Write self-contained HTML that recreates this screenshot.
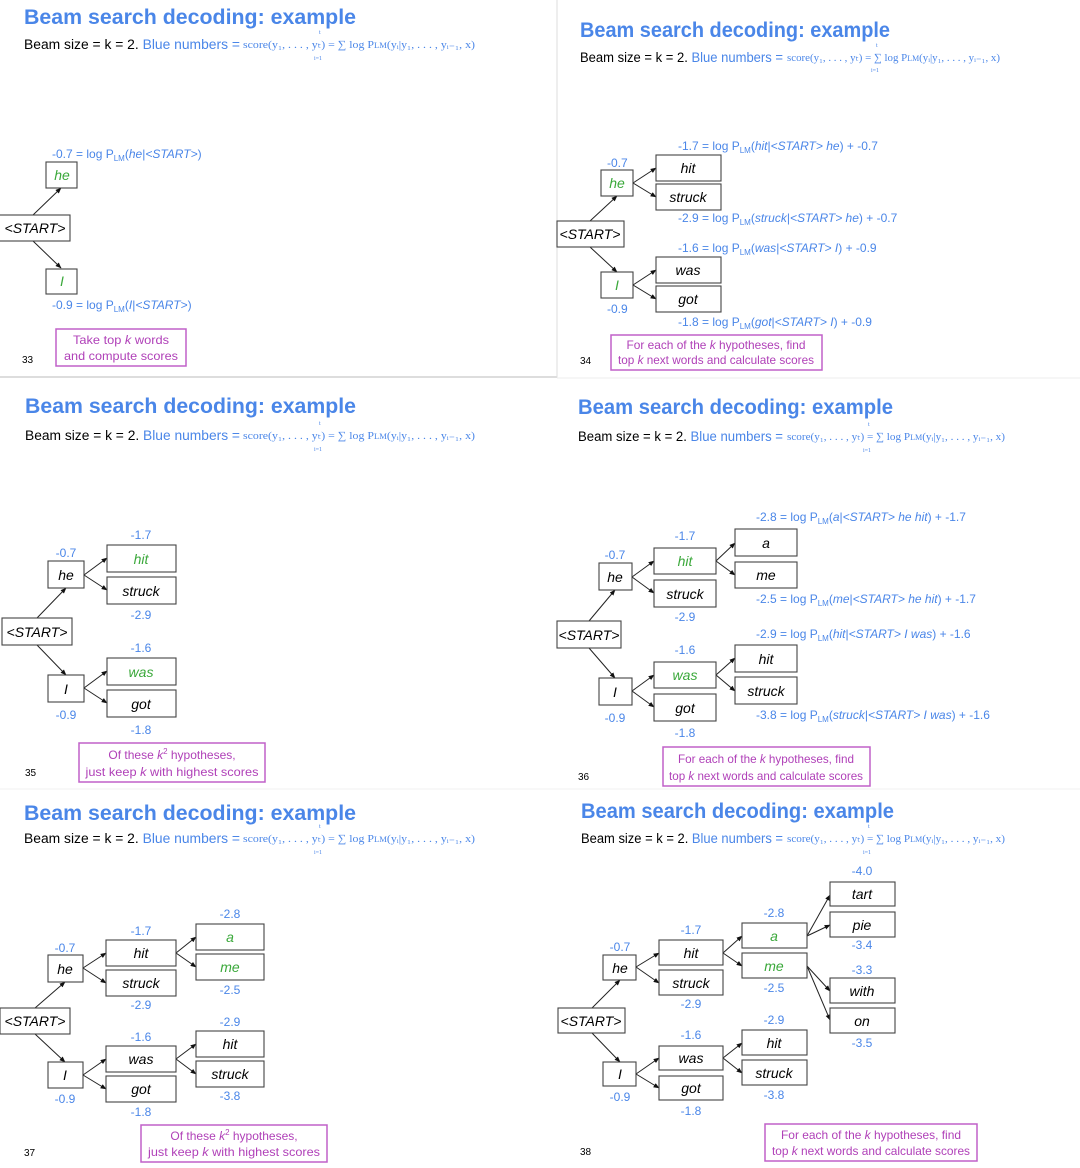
<!DOCTYPE html>
<html><head><meta charset="utf-8"><style>
html,body{margin:0;padding:0;background:#fff;}
svg{display:block;}
.t{font-family:"Liberation Sans",sans-serif;font-weight:bold;font-size:21px;fill:#4a86e8;}
.s{font-family:"Liberation Sans",sans-serif;font-size:13.5px;fill:#000;}
.sb{fill:#4a86e8;}
.f{font-family:"Liberation Serif",serif;font-size:11px;fill:#4a86e8;}
.fs{font-family:"Liberation Serif",serif;font-size:6px;fill:#4a86e8;}
.r{fill:#fff;stroke:#444;stroke-width:1.1;}
.w{font-family:"Liberation Sans",sans-serif;font-style:italic;font-size:14px;fill:#000;text-anchor:middle;}
.g{fill:#3aa83a;}
.n{font-family:"Liberation Sans",sans-serif;font-size:12px;fill:#4a86e8;}
.c{text-anchor:middle;}
.i{font-style:italic;}
.sub{font-size:8px;}
.pb{fill:#fff;stroke:#c060c8;stroke-width:1.5;}
.p{font-family:"Liberation Sans",sans-serif;font-size:12px;fill:#b040b8;text-anchor:middle;}
.num{font-family:"Liberation Sans",sans-serif;font-size:10px;fill:#000;}
.e{stroke:#222;stroke-width:1;marker-end:url(#ah);fill:none;}
</style></head><body>
<svg width="1080" height="1168" viewBox="0 0 1080 1168" xmlns="http://www.w3.org/2000/svg">
<defs><marker id="ah" viewBox="0 0 10 10" refX="9" refY="5" markerWidth="6" markerHeight="6" orient="auto"><path d="M0,1 L10,5 L0,9 z" fill="#111"/></marker></defs>
<rect width="1080" height="1168" fill="#fff"/>
<line x1="0" y1="377" x2="557" y2="377" stroke="#bbb"/>
<line x1="557" y1="0" x2="557" y2="378" stroke="#ddd"/>
<line x1="557" y1="378" x2="1080" y2="378" stroke="#eee"/>
<line x1="0" y1="789" x2="1080" y2="789" stroke="#f0f0f0"/>

<!-- Panel 33 -->
<text class="t" x="24" y="24" textLength="332" lengthAdjust="spacingAndGlyphs">Beam search decoding: example</text>
<text class="s" x="24" y="49" textLength="216" lengthAdjust="spacingAndGlyphs">Beam size = k = 2. <tspan class="sb">Blue numbers =</tspan></text>
<text class="f" x="243" y="48" textLength="232" lengthAdjust="spacingAndGlyphs">score(y₁, . . . , yₜ) = ∑ log P<tspan class="sub">LM</tspan>(yᵢ|y₁, . . . , yᵢ₋₁, x)</text>
<text class="fs" x="319" y="34">t</text><text class="fs" x="314" y="60">i=1</text>
<line class="e" x1="33" y1="215" x2="61" y2="188"/>
<line class="e" x1="33" y1="241" x2="61" y2="268"/>
<rect class="r" x="46" y="162" width="31" height="26"/><text class="w g" x="62" y="180">he</text>
<rect class="r" x="-1" y="215" width="71" height="26"/><text class="w" x="35" y="233">&lt;START&gt;</text>
<rect class="r" x="46" y="269" width="31" height="25"/><text class="w g" x="62" y="286">I</text>
<text class="n" x="52" y="158">-0.7 = log P<tspan class="sub" dy="3">LM</tspan><tspan dy="-3">(</tspan><tspan class="i">he</tspan>|<tspan class="i">&lt;START&gt;</tspan>)</text>
<text class="n" x="52" y="309">-0.9 = log P<tspan class="sub" dy="3">LM</tspan><tspan dy="-3">(</tspan><tspan class="i">I</tspan>|<tspan class="i">&lt;START&gt;</tspan>)</text>
<rect class="pb" x="56" y="329" width="130" height="37"/>
<text class="p" x="121" y="344" textLength="96" lengthAdjust="spacingAndGlyphs">Take top <tspan class="i">k</tspan> words</text>
<text class="p" x="121" y="360" textLength="114" lengthAdjust="spacingAndGlyphs">and compute scores</text>
<text class="num" x="22" y="363">33</text>

<!-- Panel 34 -->
<text class="t" x="580" y="37" textLength="310" lengthAdjust="spacingAndGlyphs">Beam search decoding: example</text>
<text class="s" x="580" y="62" textLength="203" lengthAdjust="spacingAndGlyphs">Beam size = k = 2. <tspan class="sb">Blue numbers =</tspan></text>
<text class="f" x="787" y="61" textLength="213" lengthAdjust="spacingAndGlyphs">score(y₁, . . . , yₜ) = ∑ log P<tspan class="sub">LM</tspan>(yᵢ|y₁, . . . , yᵢ₋₁, x)</text>
<text class="fs" x="876" y="47">t</text><text class="fs" x="871" y="72">i=1</text>
<line class="e" x1="590" y1="221" x2="617" y2="196"/>
<line class="e" x1="590" y1="247" x2="617" y2="272"/>
<line class="e" x1="633" y1="183" x2="656" y2="168"/>
<line class="e" x1="633" y1="183" x2="656" y2="197"/>
<line class="e" x1="633" y1="285" x2="656" y2="270"/>
<line class="e" x1="633" y1="285" x2="656" y2="299"/>
<rect class="r" x="601" y="170" width="32" height="26"/><text class="w g" x="617" y="188">he</text>
<rect class="r" x="557" y="221" width="67" height="26"/><text class="w" x="590" y="239">&lt;START&gt;</text>
<rect class="r" x="601" y="272" width="32" height="26"/><text class="w g" x="617" y="290">I</text>
<rect class="r" x="656" y="155" width="65" height="26"/><text class="w" x="688" y="173">hit</text>
<rect class="r" x="656" y="184" width="65" height="26"/><text class="w" x="688" y="202">struck</text>
<rect class="r" x="656" y="257" width="65" height="26"/><text class="w" x="688" y="275">was</text>
<rect class="r" x="656" y="286" width="65" height="26"/><text class="w" x="688" y="304">got</text>
<text class="n" x="607" y="167">-0.7</text>
<text class="n" x="607" y="313">-0.9</text>
<text class="n" x="678" y="150">-1.7 = log P<tspan class="sub" dy="3">LM</tspan><tspan dy="-3">(</tspan><tspan class="i">hit</tspan>|<tspan class="i">&lt;START&gt; he</tspan>) + -0.7</text>
<text class="n" x="678" y="222">-2.9 = log P<tspan class="sub" dy="3">LM</tspan><tspan dy="-3">(</tspan><tspan class="i">struck</tspan>|<tspan class="i">&lt;START&gt; he</tspan>) + -0.7</text>
<text class="n" x="678" y="252">-1.6 = log P<tspan class="sub" dy="3">LM</tspan><tspan dy="-3">(</tspan><tspan class="i">was</tspan>|<tspan class="i">&lt;START&gt; I</tspan>) + -0.9</text>
<text class="n" x="678" y="326">-1.8 = log P<tspan class="sub" dy="3">LM</tspan><tspan dy="-3">(</tspan><tspan class="i">got</tspan>|<tspan class="i">&lt;START&gt; I</tspan>) + -0.9</text>
<rect class="pb" x="611" y="335" width="211" height="35"/>
<text class="p" x="716" y="349" textLength="179" lengthAdjust="spacingAndGlyphs">For each of the <tspan class="i">k</tspan> hypotheses, find</text>
<text class="p" x="716" y="364" textLength="196" lengthAdjust="spacingAndGlyphs">top <tspan class="i">k</tspan> next words and calculate scores</text>
<text class="num" x="580" y="364">34</text>

<!-- Panel 35 -->
<text class="t" x="25" y="413" textLength="331" lengthAdjust="spacingAndGlyphs">Beam search decoding: example</text>
<text class="s" x="25" y="440" textLength="215" lengthAdjust="spacingAndGlyphs">Beam size = k = 2. <tspan class="sb">Blue numbers =</tspan></text>
<text class="f" x="243" y="439" textLength="232" lengthAdjust="spacingAndGlyphs">score(y₁, . . . , yₜ) = ∑ log P<tspan class="sub">LM</tspan>(yᵢ|y₁, . . . , yᵢ₋₁, x)</text>
<text class="fs" x="319" y="425">t</text><text class="fs" x="314" y="451">i=1</text>
<line class="e" x1="37" y1="618" x2="66" y2="588"/>
<line class="e" x1="37" y1="645" x2="66" y2="675"/>
<line class="e" x1="84" y1="575" x2="107" y2="558"/>
<line class="e" x1="84" y1="575" x2="107" y2="590"/>
<line class="e" x1="84" y1="688" x2="107" y2="671"/>
<line class="e" x1="84" y1="688" x2="107" y2="703"/>
<rect class="r" x="48" y="561" width="36" height="27"/><text class="w" x="66" y="580">he</text>
<rect class="r" x="2" y="618" width="70" height="27"/><text class="w" x="37" y="637">&lt;START&gt;</text>
<rect class="r" x="48" y="675" width="36" height="27"/><text class="w" x="66" y="694">I</text>
<rect class="r" x="107" y="545" width="69" height="27"/><text class="w g" x="141" y="564">hit</text>
<rect class="r" x="107" y="577" width="69" height="27"/><text class="w" x="141" y="596">struck</text>
<rect class="r" x="107" y="658" width="69" height="27"/><text class="w g" x="141" y="677">was</text>
<rect class="r" x="107" y="690" width="69" height="27"/><text class="w" x="141" y="709">got</text>
<text class="n c" x="66" y="557">-0.7</text>
<text class="n c" x="66" y="719">-0.9</text>
<text class="n c" x="141" y="539">-1.7</text>
<text class="n c" x="141" y="619">-2.9</text>
<text class="n c" x="141" y="652">-1.6</text>
<text class="n c" x="141" y="734">-1.8</text>
<rect class="pb" x="79" y="743" width="186" height="39"/>
<text class="p" x="172" y="759">Of these <tspan class="i">k</tspan><tspan font-size="8" dy="-5">2</tspan><tspan dy="5"> hypotheses,</tspan></text>
<text class="p" x="172" y="776" textLength="173" lengthAdjust="spacingAndGlyphs">just keep <tspan class="i">k</tspan> with highest scores</text>
<text class="num" x="25" y="776">35</text>

<!-- Panel 36 -->
<text class="t" x="578" y="414" textLength="315" lengthAdjust="spacingAndGlyphs">Beam search decoding: example</text>
<text class="s" x="578" y="441" textLength="205" lengthAdjust="spacingAndGlyphs">Beam size = k = 2. <tspan class="sb">Blue numbers =</tspan></text>
<text class="f" x="787" y="440" textLength="218" lengthAdjust="spacingAndGlyphs">score(y₁, . . . , yₜ) = ∑ log P<tspan class="sub">LM</tspan>(yᵢ|y₁, . . . , yᵢ₋₁, x)</text>
<text class="fs" x="868" y="426">t</text><text class="fs" x="863" y="452">i=1</text>
<line class="e" x1="589" y1="621" x2="615" y2="590"/>
<line class="e" x1="589" y1="648" x2="615" y2="678"/>
<line class="e" x1="632" y1="577" x2="654" y2="561"/>
<line class="e" x1="632" y1="577" x2="654" y2="593"/>
<line class="e" x1="632" y1="691" x2="654" y2="675"/>
<line class="e" x1="632" y1="691" x2="654" y2="707"/>
<line class="e" x1="716" y1="561" x2="735" y2="543"/>
<line class="e" x1="716" y1="561" x2="735" y2="575"/>
<line class="e" x1="716" y1="675" x2="735" y2="658"/>
<line class="e" x1="716" y1="675" x2="735" y2="691"/>
<rect class="r" x="599" y="563" width="33" height="27"/><text class="w" x="615" y="582">he</text>
<rect class="r" x="557" y="621" width="64" height="27"/><text class="w" x="589" y="640">&lt;START&gt;</text>
<rect class="r" x="599" y="678" width="33" height="27"/><text class="w" x="615" y="697">I</text>
<rect class="r" x="654" y="548" width="62" height="26"/><text class="w g" x="685" y="566">hit</text>
<rect class="r" x="654" y="580" width="62" height="27"/><text class="w" x="685" y="599">struck</text>
<rect class="r" x="654" y="662" width="62" height="26"/><text class="w g" x="685" y="680">was</text>
<rect class="r" x="654" y="694" width="62" height="27"/><text class="w" x="685" y="713">got</text>
<rect class="r" x="735" y="529" width="62" height="27"/><text class="w" x="766" y="548">a</text>
<rect class="r" x="735" y="562" width="62" height="26"/><text class="w" x="766" y="580">me</text>
<rect class="r" x="735" y="645" width="62" height="27"/><text class="w" x="766" y="664">hit</text>
<rect class="r" x="735" y="677" width="62" height="27"/><text class="w" x="766" y="696">struck</text>
<text class="n c" x="615" y="559">-0.7</text>
<text class="n c" x="615" y="722">-0.9</text>
<text class="n c" x="685" y="540">-1.7</text>
<text class="n c" x="685" y="621">-2.9</text>
<text class="n c" x="685" y="654">-1.6</text>
<text class="n c" x="685" y="737">-1.8</text>
<text class="n" x="756" y="521">-2.8 = log P<tspan class="sub" dy="3">LM</tspan><tspan dy="-3">(</tspan><tspan class="i">a</tspan>|<tspan class="i">&lt;START&gt; he hit</tspan>) + -1.7</text>
<text class="n" x="756" y="603">-2.5 = log P<tspan class="sub" dy="3">LM</tspan><tspan dy="-3">(</tspan><tspan class="i">me</tspan>|<tspan class="i">&lt;START&gt; he hit</tspan>) + -1.7</text>
<text class="n" x="756" y="638">-2.9 = log P<tspan class="sub" dy="3">LM</tspan><tspan dy="-3">(</tspan><tspan class="i">hit</tspan>|<tspan class="i">&lt;START&gt; I was</tspan>) + -1.6</text>
<text class="n" x="756" y="719">-3.8 = log P<tspan class="sub" dy="3">LM</tspan><tspan dy="-3">(</tspan><tspan class="i">struck</tspan>|<tspan class="i">&lt;START&gt; I was</tspan>) + -1.6</text>
<rect class="pb" x="663" y="747" width="207" height="39"/>
<text class="p" x="766" y="763" textLength="176" lengthAdjust="spacingAndGlyphs">For each of the <tspan class="i">k</tspan> hypotheses, find</text>
<text class="p" x="766" y="780" textLength="194" lengthAdjust="spacingAndGlyphs">top <tspan class="i">k</tspan> next words and calculate scores</text>
<text class="num" x="578" y="780">36</text>

<!-- Panel 37 -->
<text class="t" x="24" y="820" textLength="332" lengthAdjust="spacingAndGlyphs">Beam search decoding: example</text>
<text class="s" x="24" y="843" textLength="216" lengthAdjust="spacingAndGlyphs">Beam size = k = 2. <tspan class="sb">Blue numbers =</tspan></text>
<text class="f" x="243" y="842" textLength="232" lengthAdjust="spacingAndGlyphs">score(y₁, . . . , yₜ) = ∑ log P<tspan class="sub">LM</tspan>(yᵢ|y₁, . . . , yᵢ₋₁, x)</text>
<text class="fs" x="319" y="828">t</text><text class="fs" x="314" y="854">i=1</text>
<line class="e" x1="35" y1="1008" x2="65" y2="982"/>
<line class="e" x1="35" y1="1034" x2="65" y2="1062"/>
<line class="e" x1="83" y1="968" x2="106" y2="953"/>
<line class="e" x1="83" y1="968" x2="106" y2="983"/>
<line class="e" x1="83" y1="1075" x2="106" y2="1059"/>
<line class="e" x1="83" y1="1075" x2="106" y2="1089"/>
<line class="e" x1="176" y1="953" x2="196" y2="937"/>
<line class="e" x1="176" y1="953" x2="196" y2="967"/>
<line class="e" x1="176" y1="1059" x2="196" y2="1044"/>
<line class="e" x1="176" y1="1059" x2="196" y2="1074"/>
<rect class="r" x="48" y="955" width="35" height="27"/><text class="w" x="65" y="974">he</text>
<rect class="r" x="0" y="1008" width="70" height="26"/><text class="w" x="35" y="1026">&lt;START&gt;</text>
<rect class="r" x="48" y="1062" width="35" height="26"/><text class="w" x="65" y="1080">I</text>
<rect class="r" x="106" y="940" width="70" height="26"/><text class="w" x="141" y="958">hit</text>
<rect class="r" x="106" y="970" width="70" height="26"/><text class="w" x="141" y="988">struck</text>
<rect class="r" x="106" y="1046" width="70" height="26"/><text class="w" x="141" y="1064">was</text>
<rect class="r" x="106" y="1076" width="70" height="26"/><text class="w" x="141" y="1094">got</text>
<rect class="r" x="196" y="924" width="68" height="26"/><text class="w g" x="230" y="942">a</text>
<rect class="r" x="196" y="954" width="68" height="26"/><text class="w g" x="230" y="972">me</text>
<rect class="r" x="196" y="1031" width="68" height="26"/><text class="w" x="230" y="1049">hit</text>
<rect class="r" x="196" y="1061" width="68" height="26"/><text class="w" x="230" y="1079">struck</text>
<text class="n c" x="65" y="952">-0.7</text>
<text class="n c" x="65" y="1103">-0.9</text>
<text class="n c" x="141" y="935">-1.7</text>
<text class="n c" x="141" y="1009">-2.9</text>
<text class="n c" x="141" y="1041">-1.6</text>
<text class="n c" x="141" y="1116">-1.8</text>
<text class="n c" x="230" y="918">-2.8</text>
<text class="n c" x="230" y="994">-2.5</text>
<text class="n c" x="230" y="1026">-2.9</text>
<text class="n c" x="230" y="1100">-3.8</text>
<rect class="pb" x="141" y="1125" width="186" height="37"/>
<text class="p" x="234" y="1140">Of these <tspan class="i">k</tspan><tspan font-size="8" dy="-5">2</tspan><tspan dy="5"> hypotheses,</tspan></text>
<text class="p" x="234" y="1156" textLength="172" lengthAdjust="spacingAndGlyphs">just keep <tspan class="i">k</tspan> with highest scores</text>
<text class="num" x="24" y="1156">37</text>

<!-- Panel 38 -->
<text class="t" x="581" y="818" textLength="313" lengthAdjust="spacingAndGlyphs">Beam search decoding: example</text>
<text class="s" x="581" y="843" textLength="202" lengthAdjust="spacingAndGlyphs">Beam size = k = 2. <tspan class="sb">Blue numbers =</tspan></text>
<text class="f" x="787" y="842" textLength="218" lengthAdjust="spacingAndGlyphs">score(y₁, . . . , yₜ) = ∑ log P<tspan class="sub">LM</tspan>(yᵢ|y₁, . . . , yᵢ₋₁, x)</text>
<text class="fs" x="868" y="828">t</text><text class="fs" x="863" y="854">i=1</text>
<line class="e" x1="592" y1="1008" x2="620" y2="980"/>
<line class="e" x1="592" y1="1033" x2="620" y2="1062"/>
<line class="e" x1="636" y1="967" x2="659" y2="953"/>
<line class="e" x1="636" y1="967" x2="659" y2="983"/>
<line class="e" x1="636" y1="1074" x2="659" y2="1058"/>
<line class="e" x1="636" y1="1074" x2="659" y2="1088"/>
<line class="e" x1="723" y1="953" x2="742" y2="936"/>
<line class="e" x1="723" y1="953" x2="742" y2="966"/>
<line class="e" x1="723" y1="1058" x2="742" y2="1043"/>
<line class="e" x1="723" y1="1058" x2="742" y2="1073"/>
<line class="e" x1="807" y1="936" x2="830" y2="895"/>
<line class="e" x1="807" y1="936" x2="830" y2="925"/>
<line class="e" x1="807" y1="966" x2="830" y2="991"/>
<line class="e" x1="807" y1="966" x2="830" y2="1020"/>
<rect class="r" x="603" y="955" width="33" height="25"/><text class="w" x="620" y="973">he</text>
<rect class="r" x="558" y="1008" width="67" height="25"/><text class="w" x="591" y="1026">&lt;START&gt;</text>
<rect class="r" x="603" y="1062" width="33" height="24"/><text class="w" x="620" y="1079">I</text>
<rect class="r" x="659" y="940" width="64" height="25"/><text class="w" x="691" y="958">hit</text>
<rect class="r" x="659" y="970" width="64" height="25"/><text class="w" x="691" y="988">struck</text>
<rect class="r" x="659" y="1046" width="64" height="24"/><text class="w" x="691" y="1063">was</text>
<rect class="r" x="659" y="1076" width="64" height="24"/><text class="w" x="691" y="1093">got</text>
<rect class="r" x="742" y="923" width="65" height="25"/><text class="w g" x="774" y="941">a</text>
<rect class="r" x="742" y="953" width="65" height="25"/><text class="w g" x="774" y="971">me</text>
<rect class="r" x="742" y="1030" width="65" height="25"/><text class="w" x="774" y="1048">hit</text>
<rect class="r" x="742" y="1060" width="65" height="25"/><text class="w" x="774" y="1078">struck</text>
<rect class="r" x="830" y="882" width="65" height="24"/><text class="w" x="862" y="899">tart</text>
<rect class="r" x="830" y="912" width="65" height="25"/><text class="w" x="862" y="930">pie</text>
<rect class="r" x="830" y="978" width="65" height="25"/><text class="w" x="862" y="996">with</text>
<rect class="r" x="830" y="1008" width="65" height="25"/><text class="w" x="862" y="1026">on</text>
<text class="n c" x="620" y="951">-0.7</text>
<text class="n c" x="620" y="1101">-0.9</text>
<text class="n c" x="691" y="934">-1.7</text>
<text class="n c" x="691" y="1008">-2.9</text>
<text class="n c" x="691" y="1039">-1.6</text>
<text class="n c" x="691" y="1115">-1.8</text>
<text class="n c" x="774" y="917">-2.8</text>
<text class="n c" x="774" y="992">-2.5</text>
<text class="n c" x="774" y="1024">-2.9</text>
<text class="n c" x="774" y="1099">-3.8</text>
<text class="n c" x="862" y="875">-4.0</text>
<text class="n c" x="862" y="949">-3.4</text>
<text class="n c" x="862" y="974">-3.3</text>
<text class="n c" x="862" y="1047">-3.5</text>
<rect class="pb" x="765" y="1124" width="212" height="37"/>
<text class="p" x="871" y="1139" textLength="180" lengthAdjust="spacingAndGlyphs">For each of the <tspan class="i">k</tspan> hypotheses, find</text>
<text class="p" x="871" y="1155" textLength="198" lengthAdjust="spacingAndGlyphs">top <tspan class="i">k</tspan> next words and calculate scores</text>
<text class="num" x="580" y="1155">38</text>
</svg>
</body></html>
